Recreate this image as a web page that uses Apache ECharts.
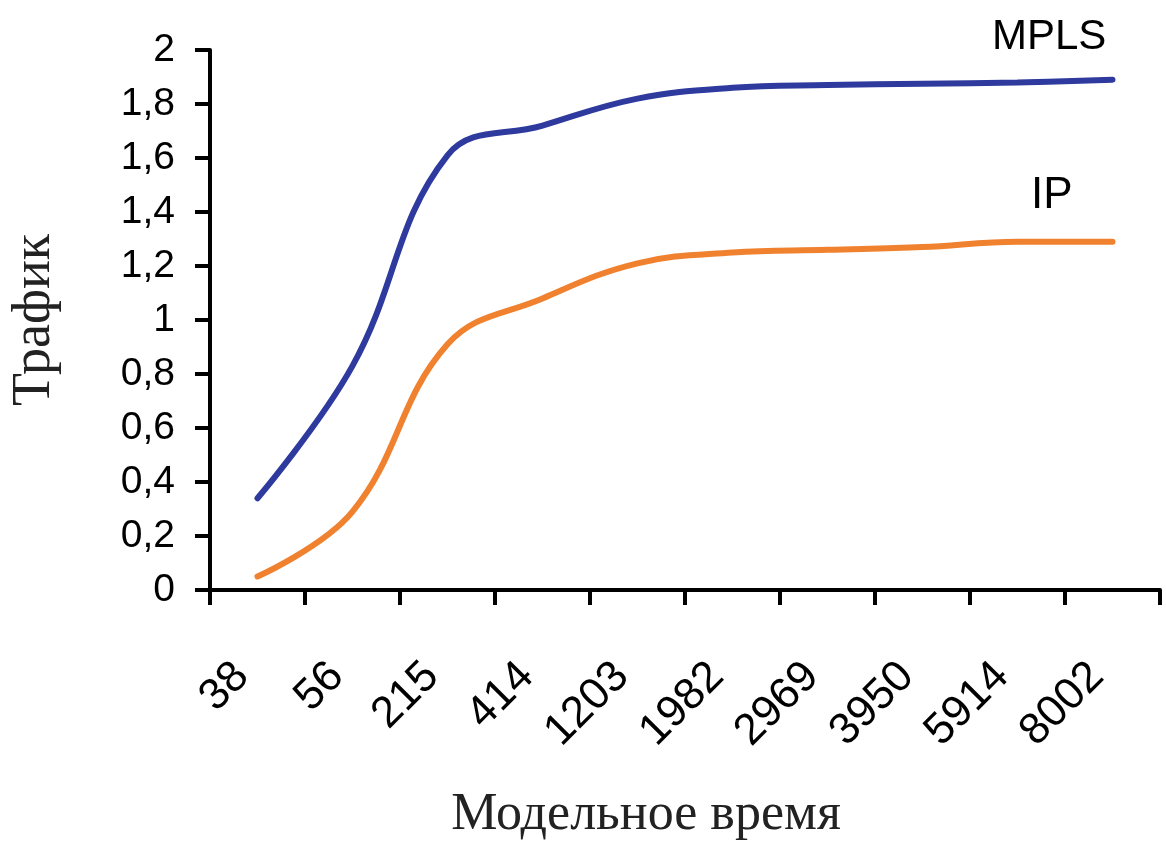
<!DOCTYPE html>
<html>
<head>
<meta charset="utf-8">
<script src="https://cdn.jsdelivr.net/npm/echarts@6/dist/echarts.min.js"></script>
<style>
html,body{margin:0;padding:0;background:#fff;}
#chart{width:1166px;height:844px;}
</style>
</head>
<body>
<div id="chart"></div>
<script>
// Data
const categories = ['38', '56', '215', '414', '1203', '1982', '2969', '3950', '5914', '8002'];
const mplsValues = [0.34, 0.83, 1.61, 1.72, 1.82, 1.86, 1.87, 1.875, 1.88, 1.89];
const ipValues = [0.05, 0.29, 0.91, 1.08, 1.21, 1.25, 1.26, 1.27, 1.29, 1.29];
const seriesNames = ['MPLS', 'IP'];
const xAxisTitle = 'Модельное время';
const yAxisTitle = 'Трафик';

const chart = echarts.init(document.getElementById('chart'), null, {renderer: 'canvas'});
const axisColor = '#000';
const option = {
  backgroundColor: '#fff',
  animation: false,
  grid: {left: 210, right: 6, top: 50, bottom: 254, containLabel: false, outerBoundsMode: 'none'},
  xAxis: {
    type: 'category',
    data: categories,
    boundaryGap: true,
    name: xAxisTitle,
    nameLocation: 'middle',
    nameGap: 199,
    nameTextStyle: {fontFamily: 'Liberation Serif', fontSize: 52, color: '#222', padding: [0, 78, 0, 0]},
    axisLine: {lineStyle: {color: axisColor, width: 4}},
    axisTick: {show: true, alignWithLabel: false, length: 15, lineStyle: {color: axisColor, width: 4}},
    axisLabel: {rotate: 45, margin: 64, padding: [0, 22, 0, 0], fontFamily: 'Liberation Sans', fontSize: 44, color: '#000', interval: 0},
    splitLine: {show: false}
  },
  yAxis: {
    type: 'value',
    min: 0, max: 2, interval: 0.2,
    name: yAxisTitle,
    nameLocation: 'middle',
    nameGap: 148,
    nameTextStyle: {fontFamily: 'Liberation Serif', fontSize: 54, color: '#222'},
    axisLine: {show: true, lineStyle: {color: axisColor, width: 4}},
    axisTick: {show: true, length: 15, lineStyle: {color: axisColor, width: 4}},
    axisLabel: {
      margin: 35, fontFamily: 'Liberation Sans', fontSize: 39, color: '#000',
      formatter: v => String(Math.round(v * 10) / 10).replace('.', ',')
    },
    splitLine: {show: false}
  },
  series: [
    {
      name: seriesNames[0], type: 'line', data: mplsValues, smooth: 0.4,
      symbol: 'none', lineStyle: {color: '#2E3A9D', width: 6, cap: 'round'}
    },
    {
      name: seriesNames[1], type: 'line', data: ipValues, smooth: 0.4,
      symbol: 'none', lineStyle: {color: '#F0812F', width: 6, cap: 'round'}
    }
  ],
  graphic: [
    {type: 'text', left: 992, top: 16, style: {text: seriesNames[0], font: '42px "Liberation Sans"', fill: '#000'}},
    {type: 'text', left: 1031, top: 174, style: {text: seriesNames[1], font: '44px "Liberation Sans"', fill: '#000'}}
  ]
};
chart.setOption(option);
</script>
</body>
</html>
